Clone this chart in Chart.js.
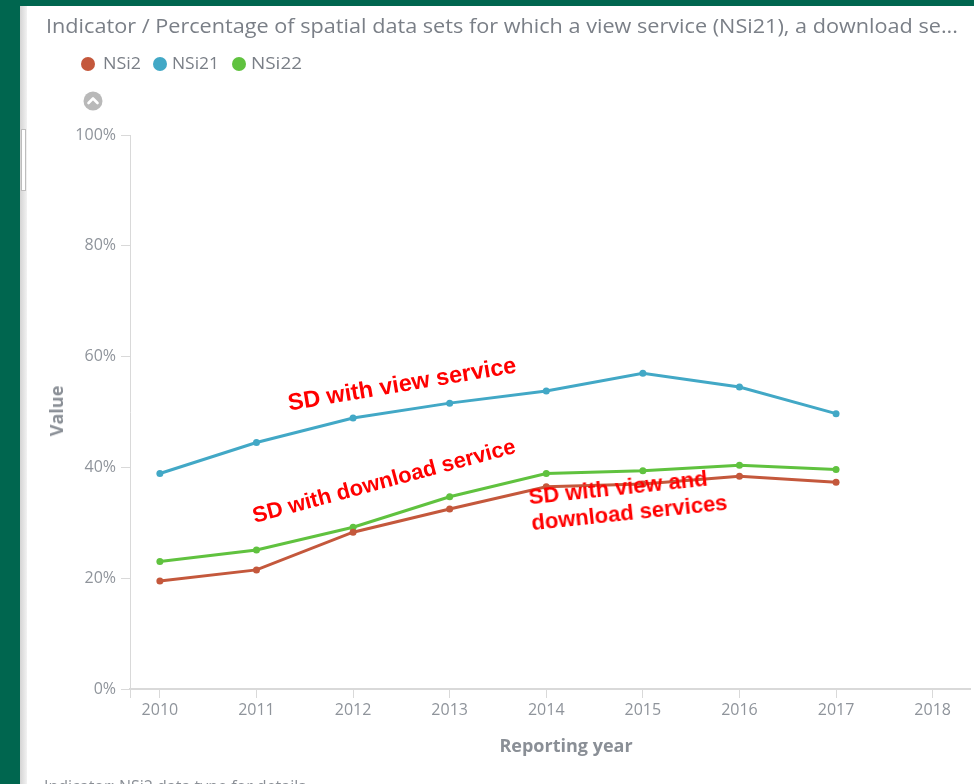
<!DOCTYPE html>
<html>
<head>
<meta charset="utf-8">
<script src="https://cdn.jsdelivr.net/npm/chart.js@4/dist/chart.umd.min.js"></script>
<style>
  html, body { margin:0; padding:0; background:#fff; }
  body { width:974px; height:784px; position:relative; overflow:hidden; font-family:"Open Sans", sans-serif; }
  #c { position:absolute; left:0; top:0; }
  .ov { position:absolute; white-space:nowrap; }
  .ann { position:absolute; color:#ff0000; font-family:"Liberation Sans", Arial, sans-serif; font-weight:bold; font-size:22px; white-space:nowrap; transform-origin:center center; }
</style>
</head>
<body>
<canvas id="c" width="974" height="784"></canvas>

<!-- frame -->
<div class="ov" style="left:0;top:0;width:974px;height:6px;background:#00664f;"></div>
<div class="ov" style="left:0;top:0;width:20px;height:784px;background:#00664f;"></div>
<div class="ov" style="left:20px;top:6px;width:7px;height:778px;background:linear-gradient(to right,#d4d4d4,#f2f2f2);"></div>
<div class="ov" style="left:21px;top:129px;width:3px;height:60px;background:#fff;border:1px solid #bdbdbd;"></div>

<div id="title" class="ov" style="left:46px;top:12px;font-size:20px;color:#7a7f87;transform-origin:left top;">Indicator / Percentage of spatial data sets for which a view service (NSi21), a download se...</div>

<div id="legend"></div>

<svg class="ov" style="left:83px;top:91px;" width="20" height="20" viewBox="0 0 20 20">
  <circle cx="10" cy="10" r="9.5" fill="#b9b9b9"/>
  <polyline points="5.5,12 10,7.5 14.5,12" fill="none" stroke="#fff" stroke-width="2.6" stroke-linecap="round" stroke-linejoin="round"/>
</svg>

<div class="ov" style="left:56px;top:411px;transform:translate(-50%,-50%) rotate(-90deg);font-size:18px;font-weight:bold;color:#8a8f96;">Value</div>
<div class="ov" style="left:566px;top:745px;transform:translate(-50%,-50%);font-size:18px;font-weight:bold;color:#8a8f96;">Reporting year</div>
<div class="ov" style="left:44px;top:775px;font-size:16px;color:#8a8f96;">Indicator: NSi2 data type for details</div>

<div class="ann" style="left:402px;top:384px;transform:translate(-50%,-50%) rotate(-9.5deg);font-size:23.5px;">SD with view service</div>
<div class="ann" style="left:384px;top:481px;transform:translate(-50%,-50%) rotate(-15deg);">SD with download service</div>
<div class="ann" style="left:628px;top:500px;transform:translate(-50%,-50%) rotate(-6deg);line-height:26px;">SD with view and<br>download services</div>

<script>
// ---- data ----
const years = [2010, 2011, 2012, 2013, 2014, 2015, 2016, 2017];
const seriesNames = ["NSi2", "NSi21", "NSi22"];
const nsi2  = [19.5, 21.5, 28.3, 32.5, 36.5, 37.0, 38.4, 37.3];
const nsi21 = [38.9, 44.5, 48.9, 51.6, 53.8, 57.0, 54.5, 49.7];
const nsi22 = [23.0, 25.1, 29.2, 34.7, 38.9, 39.4, 40.4, 39.6];
const yTicks = [0, 20, 40, 60, 80, 100];
const xTickYears = [2010, 2011, 2012, 2013, 2014, 2015, 2016, 2017, 2018];

const colors = ["#c4583c", "#42a8c6", "#60c23f"];
const seriesValues = [nsi2, nsi21, nsi22];

// legend (HTML)
const legendPos = [{dot:88, txt:103}, {dot:160, txt:172}, {dot:239, txt:251}];
const lg = document.getElementById('legend');
seriesNames.forEach((n, i) => {
  const d = document.createElement('div');
  d.className = 'ov';
  d.style.cssText = `left:${legendPos[i].dot-7}px;top:57px;width:14px;height:14px;border-radius:50%;background:${colors[i]};`;
  lg.appendChild(d);
  const t = document.createElement('div');
  t.className = 'ov';
  t.style.cssText = `left:${legendPos[i].txt}px;top:52px;font-size:16px;color:#7a7f87;transform-origin:left top;`;
  t.textContent = n;
  lg.appendChild(t);
  const w = t.getBoundingClientRect().width;
  const target = [38, 47, 51][i];
  t.style.transform = `scaleX(${target / w})`;
});

// fit title width
const tt = document.getElementById('title');
const tw = tt.getBoundingClientRect().width;
tt.style.transform = `scaleX(${912 / tw})`;

const datasets = seriesNames.map((n, i) => ({
  label: n,
  data: years.map((y, j) => ({x: y, y: seriesValues[i][j]})),
  borderColor: colors[i],
  backgroundColor: colors[i],
  borderWidth: 3,
  pointRadius: 3.5,
  pointHoverRadius: 3.5,
  pointBorderWidth: 0,
  tension: 0,
  clip: false
}));

const xMin = 2010 - 30/97;
const xMax = 2010 + (974 - 160)/97;

new Chart(document.getElementById('c'), {
  type: 'line',
  data: { datasets },
  options: {
    responsive: false,
    animation: false,
    devicePixelRatio: 1,
    layout: { padding: { left: 0, right: 0, top: 135, bottom: 0 } },
    plugins: { legend: { display: false }, tooltip: { enabled: false } },
    scales: {
      x: {
        type: 'linear',
        min: xMin,
        max: xMax,
        afterFit: s => { s.height = 95; },
        afterBuildTicks: s => {
          s.ticks = [{value: xMin}].concat(xTickYears.map(v => ({value: v})));
        },
        ticks: {
          autoSkip: false,
          maxRotation: 0,
          padding: 3,
          color: '#8f949b',
          font: { family: 'Open Sans', size: 16 },
          callback: v => Number.isInteger(v) ? String(v) : ''
        },
        grid: { drawOnChartArea: false, drawTicks: true, tickLength: 9, color: '#d9d9d9', lineWidth: 1 },
        border: { color: '#d9d9d9', width: 2 }
      },
      y: {
        min: 0,
        max: 100,
        afterFit: s => { s.width = 130; },
        afterBuildTicks: s => { s.ticks = yTicks.map(v => ({value: v})); },
        ticks: {
          padding: 5,
          color: '#8f949b',
          font: { family: 'Open Sans', size: 16 },
          callback: v => v + '%'
        },
        grid: { drawOnChartArea: false, drawTicks: true, tickLength: 9, color: '#d9d9d9', lineWidth: 1 },
        border: { color: '#d9d9d9', width: 1 }
      }
    }
  }
});
</script>
</body>
</html>
